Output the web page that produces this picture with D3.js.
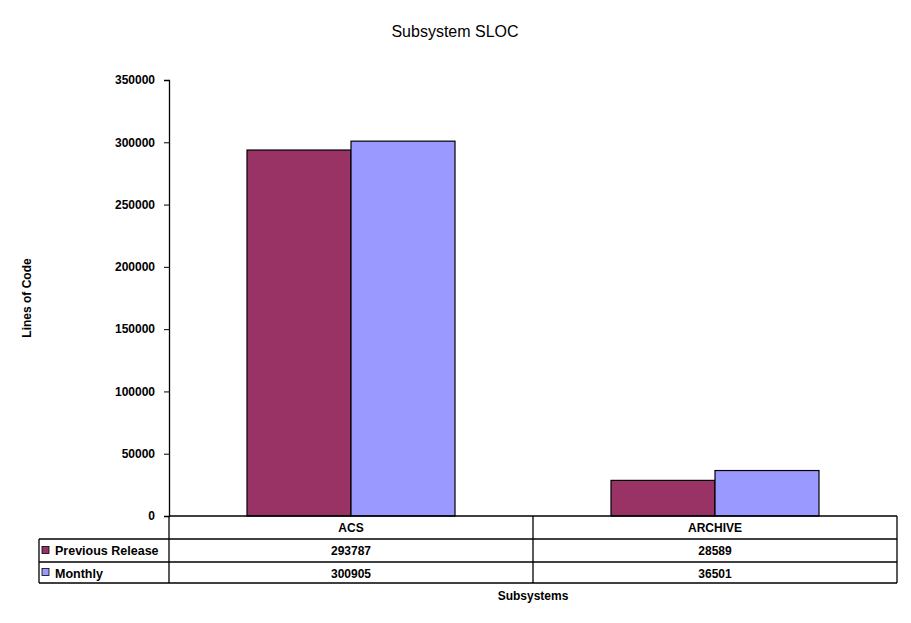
<!DOCTYPE html>
<html>
<head>
<meta charset="utf-8">
<script src="https://cdn.jsdelivr.net/npm/d3@7"></script>
<style>
  body { margin: 0; background: #fff; }
  svg text { font-family: Arial, "Liberation Sans", sans-serif; fill: #000; }
  .tick text { font-size: 12px; font-weight: bold; }
  .cell { font-size: 12px; font-weight: bold; }
</style>
</head>
<body>
<script>
// data
var categories = ["ACS", "ARCHIVE"];
var seriesNames = ["Previous Release", "Monthly"];
var previousRelease = [293787, 28589];
var monthly = [300905, 36501];
var yTicks = [0, 50000, 100000, 150000, 200000, 250000, 300000, 350000];
var colors = ["#993366", "#9999FF"];

var W = 911, H = 623;
var margin = {top: 80, left: 169, right: 14};
var plotW = 897 - margin.left;
var plotH = 516 - margin.top;
var rowH = [23, 23, 21];
var tableLeft = 39;

var svg = d3.select("body")
            .append("svg")
            .attr("width", W)
            .attr("height", H);

var series = [previousRelease, monthly];

var xScale = d3.scaleBand()
               .domain(categories)
               .range([margin.left, margin.left + plotW])
               .paddingInner(0)
               .paddingOuter(0);

var xInner = d3.scaleBand()
               .domain(d3.range(seriesNames.length))
               .range([0, xScale.bandwidth()])
               .paddingOuter(0.375 * 2);

var yScale = d3.scaleLinear()
               .domain([0, 350000])
               .range([margin.top + plotH, margin.top]);

//Title
svg.append("text")
   .attr("x", 455)
   .attr("y", 37)
   .attr("text-anchor", "middle")
   .style("font-size", "16px")
   .style("font-weight", "bold")
   .style("font-weight", "500")
   .text("Subsystem SLOC");

//Bars
categories.forEach(function(c, ci) {
  series.forEach(function(s, si) {
    svg.append("rect")
       .attr("x", xScale(c) + xInner(si))
       .attr("y", yScale(s[ci]))
       .attr("width", xInner.bandwidth())
       .attr("height", yScale(0) - yScale(s[ci]))
       .attr("fill", colors[si])
       .attr("stroke", "#000")
       .attr("stroke-width", 1.2);
  });
});

//Y axis
var yAxis = d3.axisLeft(yScale)
              .tickValues(yTicks)
              .tickSize(5)
              .tickPadding(9)
              .tickFormat(d3.format("d"));

var gy = svg.append("g")
   .attr("transform", "translate(" + margin.left + ",0)")
   .call(yAxis);
gy.select(".domain").attr("stroke", "#000").attr("stroke-width", 1.3);
gy.selectAll(".tick line").attr("stroke", "#000");

//Y label
svg.append("text")
   .attr("transform", "translate(31," + (margin.top + plotH / 2) + ") rotate(-90)")
   .attr("text-anchor", "middle")
   .attr("class", "cell")
   .text("Lines of Code");

//Data table
var t0 = margin.top + plotH;
var rowY = [t0, t0 + rowH[0], t0 + rowH[0] + rowH[1], t0 + rowH[0] + rowH[1] + rowH[2]];
var right = margin.left + plotW;
var line = function(x1, y1, x2, y2) {
  svg.append("line")
     .attr("x1", x1).attr("y1", y1).attr("x2", x2).attr("y2", y2)
     .attr("stroke", "#000").attr("stroke-width", 1.3);
};

line(margin.left, rowY[0], right, rowY[0]);
line(tableLeft, rowY[1], right, rowY[1]);
line(tableLeft, rowY[2], right, rowY[2]);
line(tableLeft, rowY[3], right, rowY[3]);
line(tableLeft, rowY[1], tableLeft, rowY[3]);
line(margin.left, rowY[0], margin.left, rowY[3]);
categories.forEach(function(c, i) {
  line(xScale(c) + xScale.bandwidth(), rowY[0], xScale(c) + xScale.bandwidth(), rowY[3]);
});

categories.forEach(function(c) {
  svg.append("text")
     .attr("class", "cell")
     .attr("x", xScale(c) + xScale.bandwidth() / 2)
     .attr("y", rowY[0] + 16)
     .attr("text-anchor", "middle")
     .text(c);
});

series.forEach(function(s, si) {
  svg.append("rect")
     .attr("x", 42)
     .attr("y", rowY[si + 1] + (rowH[si + 1] - 8) / 2)
     .attr("width", 7)
     .attr("height", 7)
     .attr("fill", colors[si])
     .attr("stroke", "#000")
     .attr("stroke-width", 0.8);
  svg.append("text")
     .attr("class", "cell")
     .attr("x", 55)
     .attr("y", rowY[si + 1] + 16)
     .style("font-size", "12.5px")
     .text(seriesNames[si]);
  categories.forEach(function(c, ci) {
    svg.append("text")
       .attr("class", "cell")
       .attr("x", xScale(c) + xScale.bandwidth() / 2)
       .attr("y", rowY[si + 1] + 16)
       .attr("text-anchor", "middle")
       .text(s[ci]);
  });
});

//X label
svg.append("text")
   .attr("class", "cell")
   .attr("x", 533)
   .attr("y", 600)
   .attr("text-anchor", "middle")
   .text("Subsystems");
</script>
</body>
</html>
